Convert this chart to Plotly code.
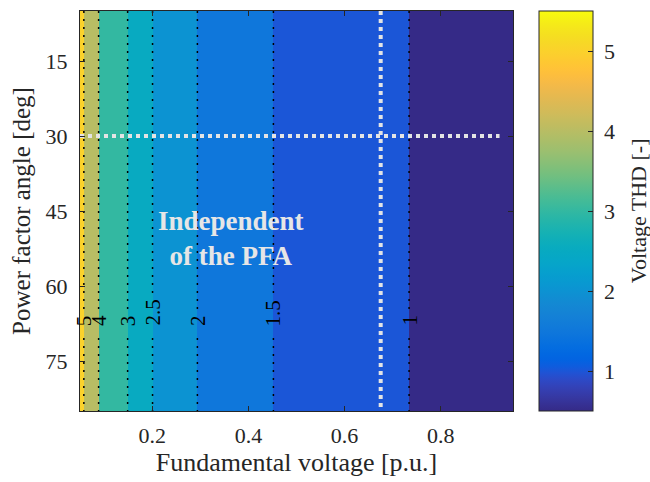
import numpy as np
import plotly.graph_objects as go

# Voltage THD versus fundamental voltage (same for every power factor angle)
voltage_pu = [0.05, 0.058, 0.0887, 0.149, 0.2008, 0.294, 0.452, 0.60, 0.734, 0.95]
thd = [5.6, 5.0, 4.0, 3.0, 2.5, 2.0, 1.5, 1.2, 1.0, 0.78]
pfa_deg = [5, 85]  # power factor angle sweep

contour_levels = [1, 1.5, 2, 2.5, 3, 4, 5]
level_labels = ["1", "1.5", "2", "2.5", "3", "4", "5"]
thd_clim = [0.5, 5.5]

# operating point marked with dotted white guides
op_voltage = 0.675
op_angle = 30
guide_h_end = 0.922

x_ticks = [0.2, 0.4, 0.6, 0.8]
y_ticks = [15, 30, 45, 60, 75]
cbar_ticks = [1, 2, 3, 4, 5]

# parula colormap (64 entries)
parula = [
    (0.2081, 0.1663, 0.5292), (0.2116, 0.1898, 0.5777), (0.2123, 0.2138, 0.6270), (0.2081, 0.2386, 0.6771),
    (0.1959, 0.2645, 0.7279), (0.1707, 0.2919, 0.7792), (0.1253, 0.3242, 0.8303), (0.0591, 0.3598, 0.8683),
    (0.0117, 0.3875, 0.8820), (0.0060, 0.4086, 0.8828), (0.0165, 0.4266, 0.8786), (0.0329, 0.4430, 0.8720),
    (0.0498, 0.4586, 0.8641), (0.0629, 0.4737, 0.8554), (0.0723, 0.4887, 0.8467), (0.0779, 0.5040, 0.8384),
    (0.0793, 0.5200, 0.8312), (0.0749, 0.5375, 0.8263), (0.0641, 0.5570, 0.8240), (0.0488, 0.5772, 0.8228),
    (0.0343, 0.5966, 0.8199), (0.0265, 0.6137, 0.8135), (0.0239, 0.6287, 0.8038), (0.0231, 0.6418, 0.7913),
    (0.0228, 0.6535, 0.7768), (0.0267, 0.6642, 0.7607), (0.0384, 0.6743, 0.7436), (0.0590, 0.6838, 0.7254),
    (0.0843, 0.6928, 0.7062), (0.1133, 0.7015, 0.6859), (0.1453, 0.7098, 0.6646), (0.1801, 0.7177, 0.6424),
    (0.2178, 0.7250, 0.6193), (0.2586, 0.7317, 0.5954), (0.3022, 0.7376, 0.5712), (0.3482, 0.7424, 0.5473),
    (0.3953, 0.7459, 0.5244), (0.4420, 0.7481, 0.5033), (0.4871, 0.7491, 0.4840), (0.5300, 0.7491, 0.4661),
    (0.5709, 0.7485, 0.4494), (0.6099, 0.7473, 0.4337), (0.6473, 0.7456, 0.4188), (0.6834, 0.7435, 0.4044),
    (0.7184, 0.7411, 0.3905), (0.7525, 0.7384, 0.3768), (0.7858, 0.7356, 0.3633), (0.8185, 0.7327, 0.3498),
    (0.8507, 0.7299, 0.3360), (0.8824, 0.7274, 0.3217), (0.9139, 0.7258, 0.3063), (0.9450, 0.7261, 0.2886),
    (0.9739, 0.7314, 0.2666), (0.9938, 0.7455, 0.2403), (0.9990, 0.7653, 0.2164), (0.9955, 0.7861, 0.1967),
    (0.9880, 0.8066, 0.1794), (0.9789, 0.8271, 0.1633), (0.9697, 0.8481, 0.1475), (0.9626, 0.8705, 0.1309),
    (0.9589, 0.8949, 0.1132), (0.9598, 0.9218, 0.0948), (0.9661, 0.9514, 0.0755), (0.9763, 0.9831, 0.0538),
]
colorscale = [[i / (len(parula) - 1), "rgb(%d,%d,%d)" % tuple(round(c * 255) for c in rgb)]
              for i, rgb in enumerate(parula)]

FONT = "Liberation Serif"
AX = "#262626"

# voltage where THD crosses each contour level (THD decreases with voltage)
v_arr = np.array(voltage_pu)
t_arr = np.array(thd)
crossings = np.interp(contour_levels, t_arr[::-1], v_arr[::-1])

# filled bands: each band takes the colour of the level on its low-THD side;
# the band below the lowest level takes the bottom of the colour range
order = np.argsort(crossings)               # left to right = high THD to low THD
edges = [v_arr[0]] + list(crossings[order]) + [v_arr[-1]]
band_vals = [contour_levels[i] for i in order] + [thd_clim[0]]

fig = go.Figure()
fig.add_trace(go.Heatmap(
    x=edges, y=pfa_deg, z=[band_vals], zmin=thd_clim[0], zmax=thd_clim[1],
    colorscale=colorscale, hoverinfo="skip",
    colorbar=dict(
        x=1.061, xanchor="left", y=0.5, yanchor="middle", len=1.0, lenmode="fraction",
        thickness=54, thicknessmode="pixels", outlinewidth=1, outlinecolor=AX,
        ticks="inside", ticklen=5, tickcolor=AX, tickvals=cbar_ticks,
        ticktext=["\u00a0" + str(t) for t in cbar_ticks],
        tickfont=dict(family=FONT, size=22, color="#262626"), ypad=0, xpad=0,
    ),
))

# dotted contour lines with rotated labels
plot_h = 482 - 11 - 71
px_per_deg = plot_h / (pfa_deg[1] - pfa_deg[0])
label_base = 68.4
label_size = 21
for lvl, lab, xv in zip(contour_levels, level_labels, crossings):
    txt_px = sum(0.25 if ch == "." else 0.5 for ch in lab) * label_size
    top = label_base - txt_px / px_per_deg
    segs = [(pfa_deg[0], top - 1.0), (label_base + 2.0, pfa_deg[1])]
    for y0, y1 in segs:
        fig.add_trace(go.Scatter(x=[xv, xv], y=[y0, y1], mode="lines",
                                 line=dict(color="black", width=1.5, dash="2px,6px"),
                                 hoverinfo="skip", showlegend=False))
    fig.add_annotation(x=xv, y=label_base, text=lab, textangle=-90, showarrow=False,
                       xanchor="center", yanchor="bottom",
                       font=dict(family=FONT, size=label_size, color="black"))

# operating-point guides
fig.add_trace(go.Scatter(x=[v_arr[0], guide_h_end], y=[op_angle, op_angle], mode="lines",
                         line=dict(color="#e4e4e4", width=4, dash="4px,4px"),
                         hoverinfo="skip", showlegend=False))
fig.add_trace(go.Scatter(x=[op_voltage, op_voltage], y=[pfa_deg[0], pfa_deg[1]], mode="lines",
                         line=dict(color="#e4e4e4", width=4, dash="4px,4px"),
                         hoverinfo="skip", showlegend=False))

fig.add_annotation(x=0.363, y=50.5, text="<b>Independent<br>of the PFA</b>", showarrow=False,
                   xanchor="center", yanchor="middle",
                   font=dict(family=FONT, size=27, color="#e6e6e6"))

# colour bar title
fig.add_annotation(x=1.289, y=0.5, xref="paper", yref="paper", text="Voltage THD [-]",
                   textangle=-90, showarrow=False, xanchor="center", yanchor="middle",
                   font=dict(family=FONT, size=22, color="#262626"))

axis_common = dict(
    showline=True, linecolor=AX, linewidth=1, mirror="allticks",
    ticks="inside", ticklen=5, tickcolor=AX, tickwidth=1,
    showgrid=True, gridcolor="rgba(0,0,0,0.13)", gridwidth=1,
    zeroline=False, layer="above traces",
    tickfont=dict(family=FONT, size=22, color="#262626"),
)
fig.update_xaxes(range=[0.05, 0.95], tickvals=x_ticks, ticktext=["0.2", "0.4", "0.6", "0.8"],
                 title=dict(text="Fundamental voltage [p.u.]", standoff=0,
                            font=dict(family=FONT, size=26, color="#262626")),
                 ticklabelstandoff=5, **axis_common)
fig.update_yaxes(range=[85, 5], tickvals=y_ticks,
                 title=dict(text="Power factor angle [deg]", standoff=7,
                            font=dict(family=FONT, size=25, color="#262626")),
                 ticklabelstandoff=7, **axis_common)

fig.update_layout(
    width=650, height=482, margin=dict(l=80, r=137, t=11, b=71, autoexpand=False),
    paper_bgcolor="white", plot_bgcolor="white", showlegend=False,
    font=dict(family=FONT, color="#262626"),
)
fig.write_html("out.html")
